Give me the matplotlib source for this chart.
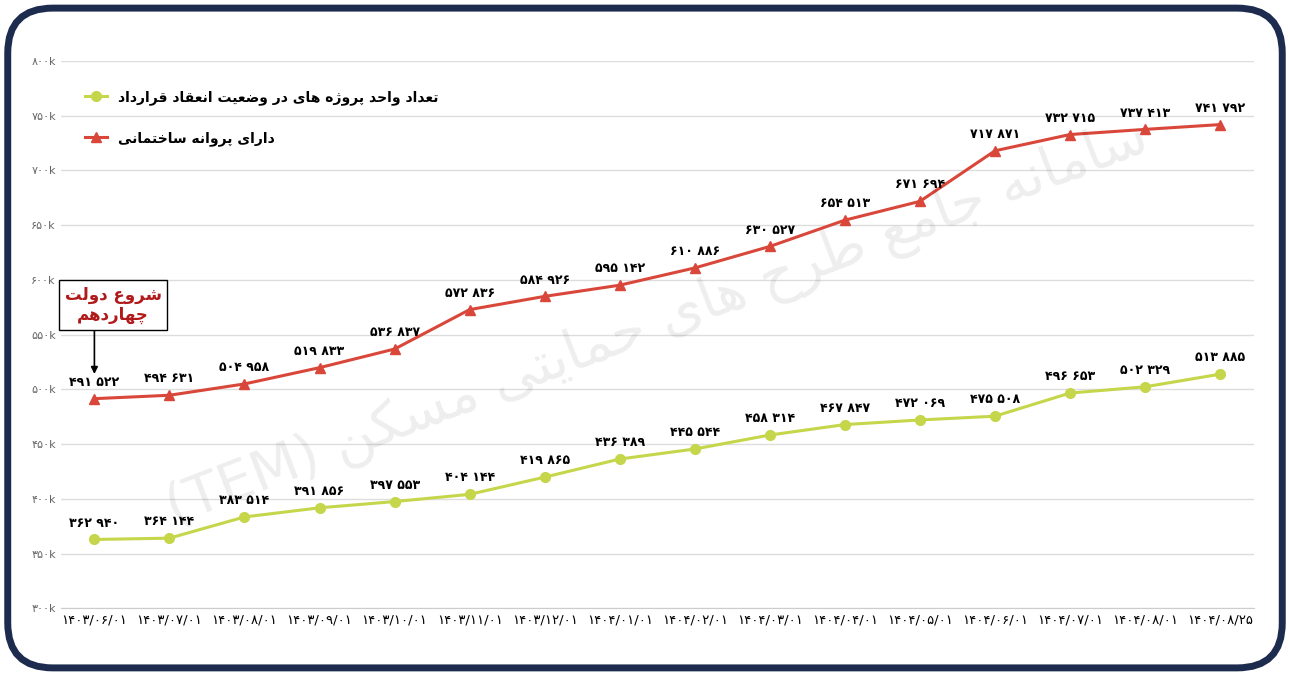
import matplotlib
matplotlib.use("Agg")
import matplotlib.pyplot as plt
from matplotlib.patches import FancyBboxPatch

dates = ["1403/06/01","1403/07/01","1403/08/01","1403/09/01","1403/10/01","1403/11/01",
         "1403/12/01","1404/01/01","1404/02/01","1404/03/01","1404/04/01","1404/05/01",
         "1404/06/01","1404/07/01","1404/08/01","1404/08/25"]
permit = [491522,494631,504958,519833,536837,572836,584926,595142,610886,630527,
          654513,671694,717871,732715,737413,741792]
contract = [362940,364144,383514,391856,397553,404144,419865,436389,445544,458314,
            467847,472069,475508,496653,502329,513885]
yticks = [300000,350000,400000,450000,500000,550000,600000,650000,700000,750000,800000]
label_contract = "تعداد واحد پروژه های در وضعیت انعقاد قرارداد"
label_permit = "دارای پروانه ساختمانی"
note = ["شروع دولت", "چهاردهم"]
watermark = "سامانه جامع طرح های حمایتی مسکن"

FORMS = {
 'ا':(0xFE8D,0xFE8E),'آ':(0xFE81,0xFE82),'د':(0xFEA9,0xFEAA),'ذ':(0xFEAB,0xFEAC),
 'ر':(0xFEAD,0xFEAE),'ز':(0xFEAF,0xFEB0),'ژ':(0xFB8A,0xFB8B),'و':(0xFEED,0xFEEE),
 'ب':(0xFE8F,0xFE90,0xFE91,0xFE92),'پ':(0xFB56,0xFB57,0xFB58,0xFB59),
 'ت':(0xFE95,0xFE96,0xFE97,0xFE98),'ث':(0xFE99,0xFE9A,0xFE9B,0xFE9C),
 'ج':(0xFE9D,0xFE9E,0xFE9F,0xFEA0),'چ':(0xFB7A,0xFB7B,0xFB7C,0xFB7D),
 'ح':(0xFEA1,0xFEA2,0xFEA3,0xFEA4),'خ':(0xFEA5,0xFEA6,0xFEA7,0xFEA8),
 'س':(0xFEB1,0xFEB2,0xFEB3,0xFEB4),'ش':(0xFEB5,0xFEB6,0xFEB7,0xFEB8),
 'ص':(0xFEB9,0xFEBA,0xFEBB,0xFEBC),'ض':(0xFEBD,0xFEBE,0xFEBF,0xFEC0),
 'ط':(0xFEC1,0xFEC2,0xFEC3,0xFEC4),'ظ':(0xFEC5,0xFEC6,0xFEC7,0xFEC8),
 'ع':(0xFEC9,0xFECA,0xFECB,0xFECC),'غ':(0xFECD,0xFECE,0xFECF,0xFED0),
 'ف':(0xFED1,0xFED2,0xFED3,0xFED4),'ق':(0xFED5,0xFED6,0xFED7,0xFED8),
 'ک':(0xFB8E,0xFB8F,0xFB90,0xFB91),'گ':(0xFB92,0xFB93,0xFB94,0xFB95),
 'ل':(0xFEDD,0xFEDE,0xFEDF,0xFEE0),'م':(0xFEE1,0xFEE2,0xFEE3,0xFEE4),
 'ن':(0xFEE5,0xFEE6,0xFEE7,0xFEE8),'ه':(0xFEE9,0xFEEA,0xFEEB,0xFEEC),
 'ی':(0xFBFC,0xFBFD,0xFBFE,0xFBFF),
}
def shape(s):
    out = []
    for i, c in enumerate(s):
        if c not in FORMS:
            out.append(c); continue
        f = FORMS[c]
        prev = s[i-1] if i > 0 else ''
        nxt = s[i+1] if i+1 < len(s) else ''
        jp = prev in FORMS and len(FORMS[prev]) == 4
        jn = len(f) == 4 and nxt in FORMS
        if jp and jn: cp = f[3]
        elif jp: cp = f[1]
        elif jn: cp = f[2]
        else: cp = f[0]
        out.append(chr(cp))
    return ''.join(reversed(out))

def fa(s):
    return s.translate(str.maketrans("0123456789", "۰۱۲۳۴۵۶۷۸۹"))
def num(v):
    return fa(f"{v:,}".replace(",", " "))

plt.rcParams['font.family'] = ['DejaVu Sans']
fig = plt.figure(figsize=(12.9, 6.76), dpi=100)
frame = FancyBboxPatch((0.006, 0.012), 0.988, 0.976, boxstyle="round,pad=0,rounding_size=0.035",
                       transform=fig.transFigure, fc="white", ec="#1c2b4e", lw=5,
                       mutation_aspect=1.9, zorder=-10)
fig.patches.append(frame)
ax = fig.add_axes([0.047, 0.10, 0.925, 0.81])
ax.patch.set_alpha(0)
x = list(range(len(dates)))
ax.plot(x, contract, color="#c5d64a", marker="o", ms=7, lw=2.2, label=shape(label_contract))
ax.plot(x, permit, color="#d9473b", marker="^", ms=7, lw=2.2, label=shape(label_permit))
for xi, v in zip(x, contract):
    ax.text(xi, v + 9000, num(v), ha="center", va="bottom", fontsize=9, fontweight="bold")
for xi, v in zip(x, permit):
    ax.text(xi, v + 9000, num(v), ha="center", va="bottom", fontsize=9, fontweight="bold")
ax.set_ylim(300000, 800000)
ax.set_xlim(-0.45, len(dates) - 0.55)
ax.set_yticks(yticks)
ax.set_yticklabels([fa(str(t // 1000)) + "k" for t in yticks], fontsize=8, color="#666666")
ax.set_xticks(x)
ax.set_xticklabels([fa(d) for d in dates], fontsize=9.5)
ax.grid(axis="y", color="#dddddd", lw=1)
ax.set_axisbelow(True)
for s in ["top", "right", "left"]:
    ax.spines[s].set_visible(False)
ax.spines["bottom"].set_color("#cccccc")
ax.tick_params(length=0)
leg = ax.legend(loc="upper left", bbox_to_anchor=(0.01, 0.97), frameon=False, markerfirst=True,
                prop={"weight": "bold", "size": 10}, labelspacing=1.9, handlelength=1.6)
ax.text(0.5, 0.52, "(TEM) " + shape(watermark), transform=ax.transAxes, rotation=21,
        ha="center", va="center", fontsize=40, color="#000000", alpha=0.07)
ax.annotate("", xy=(0, permit[0] + 20000), xytext=(0, 557000),
            arrowprops=dict(arrowstyle="-|>", color="black", lw=1.2))
ax.text(0.25, 560000, shape(note[0]) + "\n" + shape(note[1]), ha="center", va="bottom",
        fontsize=12, fontweight="bold", color="#b01a1a", linespacing=1.1,
        bbox=dict(boxstyle="square,pad=0.35", fc="white", ec="black", lw=1))
fig.savefig("out.png", dpi=100)
